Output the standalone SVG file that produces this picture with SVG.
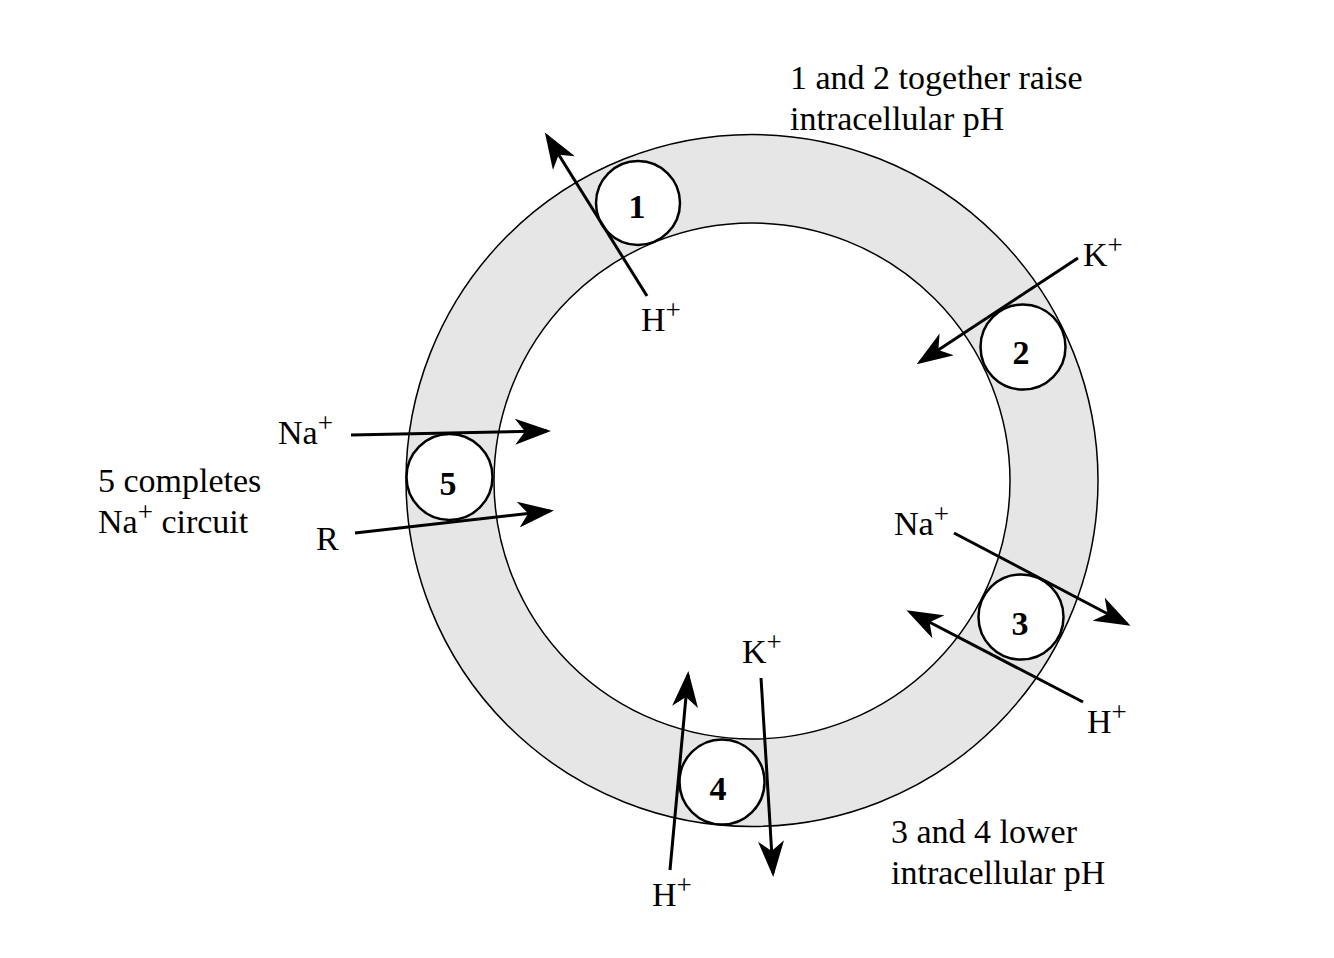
<svg xmlns="http://www.w3.org/2000/svg" width="1334" height="958" viewBox="0 0 1334 958">
  <style>
    .lbl { font-family: "Liberation Serif", "Times New Roman", serif; font-size: 34px; fill: #000; }
    .num { font-family: "Liberation Serif", "Times New Roman", serif; font-size: 34px; font-weight: bold; fill: #000; text-anchor: middle; }
    .sup { font-size: 27px; }
    .arrow { stroke: #000; stroke-width: 3; fill: none; marker-end: url(#ah); }
    .node { fill: #fff; stroke: #000; stroke-width: 2.5; }
  </style>
  <defs>
    <marker id="ah" markerUnits="userSpaceOnUse" viewBox="0 -13 36 26" markerWidth="36" markerHeight="26" refX="32" refY="0" orient="auto">
      <path d="M0,-13 L36,0 L0,13 L10,0 Z" fill="#000"/>
    </marker>
  </defs>
  <rect width="1334" height="958" fill="#fff"/>
  <g id="membrane">
    <circle cx="752" cy="480.5" r="346" fill="#e6e6e6" stroke="#000" stroke-width="1.5"/>
    <circle cx="752" cy="481" r="258" fill="#fff" stroke="#000" stroke-width="1.5"/>
  </g>
  <g id="node1"><circle class="node" cx="638" cy="203" r="42"/><text class="num" x="637" y="218">1</text></g>
  <g id="node2"><circle class="node" cx="1023" cy="347" r="42.5"/><text class="num" x="1021" y="364">2</text></g>
  <g id="node3"><circle class="node" cx="1021" cy="617" r="42.5"/><text class="num" x="1020" y="635">3</text></g>
  <g id="node4"><circle class="node" cx="722" cy="782" r="42.5"/><text class="num" x="718" y="800">4</text></g>
  <g id="node5"><circle class="node" cx="449.5" cy="477" r="43"/><text class="num" x="448" y="495">5</text></g>
  <g id="connectors">
    <line class="arrow" x1="647" y1="296" x2="547" y2="136"/>
    <line class="arrow" x1="1078" y1="258" x2="920" y2="362"/>
    <line class="arrow" x1="954" y1="533" x2="1127" y2="624"/>
    <line class="arrow" x1="1083" y1="702" x2="910" y2="612"/>
    <line class="arrow" x1="670" y1="870" x2="688" y2="675"/>
    <line class="arrow" x1="761" y1="678" x2="773" y2="873"/>
    <line class="arrow" x1="351" y1="435" x2="547" y2="431"/>
    <line class="arrow" x1="355" y1="533" x2="550" y2="511"/>
  </g>
  <g id="labels">
    <text class="lbl" x="641" y="331">H<tspan class="sup" dy="-12">+</tspan></text>
    <text class="lbl" x="1083" y="266">K<tspan class="sup" dy="-12">+</tspan></text>
    <text class="lbl" x="894" y="535">Na<tspan class="sup" dy="-12">+</tspan></text>
    <text class="lbl" x="1087" y="733">H<tspan class="sup" dy="-12">+</tspan></text>
    <text class="lbl" x="742" y="663">K<tspan class="sup" dy="-12">+</tspan></text>
    <text class="lbl" x="652" y="906">H<tspan class="sup" dy="-12">+</tspan></text>
    <text class="lbl" x="278" y="444">Na<tspan class="sup" dy="-12">+</tspan></text>
    <text class="lbl" x="316" y="550">R</text>
    <text class="lbl" x="98" y="492">5 completes</text>
    <text class="lbl" x="98" y="533">Na<tspan class="sup" dy="-12">+</tspan><tspan dy="12"> circuit</tspan></text>
    <text class="lbl" x="891" y="843">3 and 4 lower</text>
    <text class="lbl" x="891" y="884">intracellular pH</text>
    <text class="lbl" x="790" y="89">1 and 2 together raise</text>
    <text class="lbl" x="790" y="130">intracellular pH</text>
  </g>
</svg>
